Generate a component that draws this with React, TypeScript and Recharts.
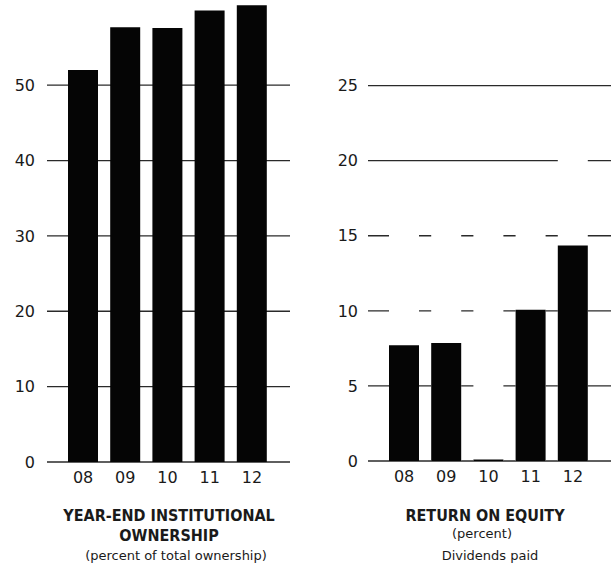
import React from "react";
import { BarChart, Bar, XAxis, YAxis, CartesianGrid } from "recharts";

const years = ["08", "09", "10", "11", "12"];
const ownership = [52.0, 57.7, 57.6, 59.9, 60.6];
const roe = [7.7, 7.85, 0.1, 10.07, 14.35];
const dividendsPaid = [17, 17, 17, 17, 22];
const ownershipTicks = [0, 10, 20, 30, 40, 50];
const roeTicks = [0, 5, 10, 15, 20, 25];

const leftData = years.map((y, i) => ({ year: y, value: ownership[i] }));
const rightData = years.map((y, i) => ({ year: y, roe: roe[i], div: dividendsPaid[i] }));

const FONT = "'DejaVu Sans', sans-serif";
const TITLE_FONT = "'DejaVu Sans Condensed', 'DejaVu Sans', sans-serif";
const tickStyle = { fontFamily: FONT, fontSize: 16, fill: "#1a1a1a" };
const GRID = "#2a2a2a";

export default function App() {
  return (
    <div style={{ position: "absolute", left: 0, top: 0, width: 611, height: 569, overflow: "hidden", background: "#fff", fontFamily: FONT, color: "#1a1a1a" }}>
      <div style={{ position: "absolute", left: 0, top: 0 }}>
        <BarChart width={300} height={492} data={leftData} margin={{ top: 0, right: 10, bottom: 0, left: 7 }}>
          <CartesianGrid vertical={false} stroke={GRID} strokeWidth={1.3} horizontalValues={ownershipTicks} />
          <XAxis dataKey="year" axisLine={false} tickLine={false} tickSize={0} tickMargin={10} height={30} padding={{ left: 15, right: 17 }} tick={tickStyle} interval={0} />
          <YAxis domain={[0, 61.3]} ticks={ownershipTicks} axisLine={false} tickLine={false} tickSize={0} tickMargin={12} width={40} tick={tickStyle} />
          <Bar dataKey="value" fill="#050505" barSize={30} isAnimationActive={false} />
        </BarChart>
      </div>
      <div style={{ position: "absolute", left: 300, top: 0 }}>
        <BarChart width={311} height={491} data={rightData} margin={{ top: 0, right: 0, bottom: 0, left: 8 }}>
          <CartesianGrid vertical={false} stroke={GRID} strokeWidth={1.3} xAxisId="a" horizontalValues={roeTicks} />
          <XAxis xAxisId="a" dataKey="year" axisLine={false} tickLine={false} tickSize={0} tickMargin={10} height={30} padding={{ left: 15, right: 17 }} tick={tickStyle} interval={0} />
          <XAxis xAxisId="b" dataKey="year" hide padding={{ left: 15, right: 17 }} />
          <YAxis domain={[0, 30.7]} ticks={roeTicks} axisLine={false} tickLine={false} tickSize={0} tickMargin={10} width={60} tick={tickStyle} />
          <Bar xAxisId="b" dataKey="div" fill="#ffffff" barSize={30} isAnimationActive={false} />
          <Bar xAxisId="a" dataKey="roe" fill="#050505" barSize={30} isAnimationActive={false} />
        </BarChart>
      </div>
      <div style={{ position: "absolute", left: 19, width: 300, top: 506, textAlign: "center", fontFamily: TITLE_FONT, fontWeight: "bold", fontSize: 16, lineHeight: "20px" }}>
        YEAR-END INSTITUTIONAL<br />OWNERSHIP
      </div>
      <div style={{ position: "absolute", left: 26, width: 300, top: 548, textAlign: "center", fontSize: 13, lineHeight: "16px" }}>
        (percent of total ownership)
      </div>
      <div style={{ position: "absolute", left: 335, width: 300, top: 506, textAlign: "center", fontFamily: TITLE_FONT, fontWeight: "bold", fontSize: 16, lineHeight: "20px" }}>
        RETURN ON EQUITY
      </div>
      <div style={{ position: "absolute", left: 332, width: 300, top: 526, textAlign: "center", fontSize: 13, lineHeight: "16px" }}>
        (percent)
      </div>
      <div style={{ position: "absolute", left: 340, width: 300, top: 548, textAlign: "center", fontSize: 13, lineHeight: "16px" }}>
        Dividends paid
      </div>
    </div>
  );
}
